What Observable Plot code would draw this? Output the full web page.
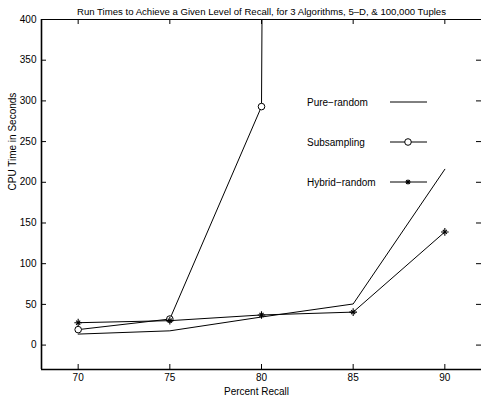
<!DOCTYPE html>
<html>
<head>
<meta charset="utf-8">
<script src="https://cdn.jsdelivr.net/npm/d3@7"></script>
<script src="https://cdn.jsdelivr.net/npm/@observablehq/plot@0.6"></script>
<style>
  html, body { margin: 0; padding: 0; background: #fff; }
</style>
</head>
<body>
<div id="chart"></div>
<script>
const recall = [70, 75, 80, 85, 90];
const pureRandom = [13.5, 17.5, 34.5, 50.5, 216];
const subsamplingRecall = [70, 75, 80, 85];
const subsampling = [19, 32, 293, 20000];
const hybridRandom = [27.5, 30, 37, 40.5, 139];
const xTicks = [70, 75, 80, 85, 90];
const yTicks = [0, 50, 100, 150, 200, 250, 300, 350, 400];
const seriesNames = ["Pure\u2212random", "Subsampling", "Hybrid\u2212random"];
const title = "Run Times to Achieve a Given Level of Recall, for 3 Algorithms, 5\u2013D, & 100,000 Tuples";
const xLabel = "Percent Recall";
const yLabel = "CPU Time in Seconds";

const pureData = recall.map((x, i) => ({x, y: pureRandom[i]}));
const subData = subsamplingRecall.map((x, i) => ({x, y: subsampling[i]}));
const hybData = recall.map((x, i) => ({x, y: hybridRandom[i]}));

const font = "Liberation Sans, Arial, Helvetica, sans-serif";

function legend(index, scales, values, dims) {
  const g = d3.create("svg:g").attr("font-family", font).attr("font-size", 10).attr("text-anchor", "start");
  seriesNames.forEach((name, i) => {
    const cy = 102 + i * 40;
    g.append("text").attr("x", 307).attr("y", cy).attr("dy", "0.35em").attr("fill", "black").text(name);
    g.append("line").attr("x1", 390).attr("x2", 427).attr("y1", cy).attr("y2", cy).attr("stroke", "black");
    if (i === 1) {
      g.append("circle").attr("cx", 408).attr("cy", cy).attr("r", 3.3).attr("fill", "white").attr("stroke", "black");
    } else if (i === 2) {
      const s = 2.6;
      g.append("path").attr("d", `M${408 - s},${cy}h${2 * s}M408,${cy - s}v${2 * s}M${408 - s * 0.72},${cy - s * 0.72}l${s * 1.44},${s * 1.44}M${408 - s * 0.72},${cy + s * 0.72}l${s * 1.44},${-s * 1.44}`).attr("stroke", "black").attr("stroke-width", 1.1);
    }
  });
  return g.node();
}

const chart = Plot.plot({
  width: 481,
  height: 396,
  marginTop: 19,
  marginBottom: 27,
  marginLeft: 41,
  marginRight: 0,
  style: {fontFamily: font, fontSize: "10px", background: "white", color: "black"},
  x: {domain: [68, 92], axis: null},
  y: {domain: [-30, 400], axis: null},
  marks: [
    Plot.axisX(xTicks, {tickSize: 0, tickPadding: 4, fontSize: 10, label: null}),
    Plot.axisY(yTicks, {tickSize: 0, tickPadding: 5, fontSize: 10, label: null}),
    Plot.ruleX(xTicks, {insetTop: 345, stroke: "black"}),
    Plot.ruleX(xTicks, {insetBottom: 345, stroke: "black"}),
    Plot.ruleY(yTicks, {insetRight: 435, stroke: "black"}),
    Plot.ruleY(yTicks, {insetLeft: 435, stroke: "black"}),
    Plot.ruleY([400], {stroke: "black", strokeWidth: 1}),
    Plot.ruleY([-30], {stroke: "black", strokeWidth: 1.6}),
    Plot.ruleX([68], {stroke: "black", strokeWidth: 1.6}),
    Plot.line(pureData, {x: "x", y: "y", stroke: "black", strokeWidth: 1}),
    Plot.line(subData, {x: "x", y: "y", stroke: "black", strokeWidth: 1, clip: true}),
    Plot.line(hybData, {x: "x", y: "y", stroke: "black", strokeWidth: 1}),
    Plot.dot(subData, {x: "x", y: "y", r: 3.3, stroke: "black", fill: "white", strokeWidth: 1, clip: true}),
    Plot.dot(hybData, {x: "x", y: "y", r: 2.6, symbol: "plus", stroke: "black", strokeWidth: 1.1}),
    Plot.dot(hybData, {x: "x", y: "y", r: 2.0, symbol: "times", stroke: "black", strokeWidth: 1.1}),
    legend,
    Plot.text([title], {frameAnchor: "top", dy: -8, fontSize: 9.6, lineAnchor: "middle", fill: "black"}),
    Plot.text([xLabel], {frameAnchor: "bottom", dy: 22, dx: -5, fontSize: 10, lineAnchor: "middle", fill: "black"}),
    Plot.text([yLabel], {frameAnchor: "left", dx: -29, dy: -4, rotate: -90, fontSize: 10, lineAnchor: "middle", fill: "black"})
  ]
});
document.getElementById("chart").appendChild(chart);
</script>
</body>
</html>
